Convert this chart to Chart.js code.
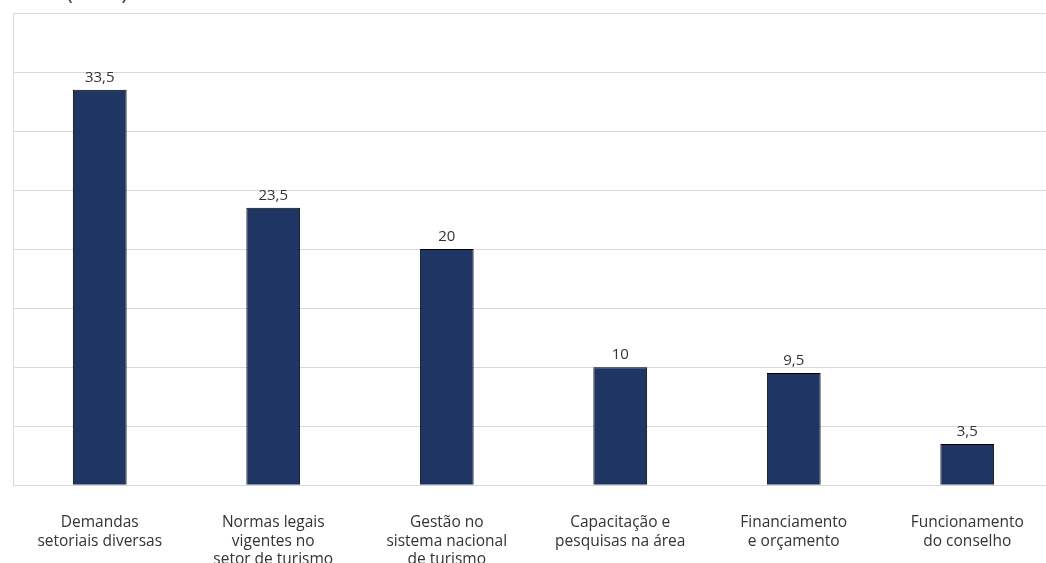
<!DOCTYPE html>
<html>
<head>
<meta charset="utf-8">
<script src="https://cdn.jsdelivr.net/npm/chart.js@4"></script>
<style>
    html, body { margin: 0; padding: 0; background: #fff; overflow: hidden; }
    #wrap { position: absolute; left: 0; top: 0; width: 1054px; height: 599px; }
    #unit { position: absolute; left: 67px; top: -20px; font: 19px "Open Sans", sans-serif; color: #333; }
</style>
</head>
<body>
<div id="unit">(Em %)</div>
<div id="wrap"><canvas id="chart"></canvas></div>
<script>
const categories = [
    ["Demandas", "setoriais diversas"],
    ["Normas legais", "vigentes no", "setor de turismo"],
    ["Gestão no", "sistema nacional", "de turismo"],
    ["Capacitação e", "pesquisas na área"],
    ["Financiamento", "e orçamento"],
    ["Funcionamento", "do conselho"]
];
const values = [33.5, 23.5, 20, 10, 9.5, 3.5];

const barColor = '#1f3563';
const gridColor = '#d9d9d9';
const textColor = '#333333';

// Value labels above each bar, pt-BR decimal comma
const valueLabels = {
    id: 'valueLabels',
    afterDatasetsDraw(chart) {
        const ctx = chart.ctx;
        const meta = chart.getDatasetMeta(0);
        ctx.save();
        ctx.font = '15px "Open Sans", sans-serif';
        ctx.fillStyle = textColor;
        ctx.textAlign = 'center';
        ctx.textBaseline = 'middle';
        meta.data.forEach((bar, i) => {
            const txt = values[i].toLocaleString('pt-BR');
            ctx.fillText(txt, bar.x, bar.y - 12);
        });
        ctx.restore();
    }
};

new Chart(document.getElementById('chart').getContext('2d'), {
    type: 'bar',
    data: {
        labels: categories,
        datasets: [{
            data: values,
            backgroundColor: barColor,
            borderColor: '#000000',
            borderWidth: 1,
            barPercentage: 0.31,
            categoryPercentage: 1.0
        }]
    },
    options: {
        responsive: true,
        maintainAspectRatio: false,
        animation: false,
        layout: { padding: { top: 13, left: 12, right: 0, bottom: 2 } },
        plugins: {
            legend: { display: false },
            tooltip: { enabled: false }
        },
        scales: {
            x: {
                grid: { display: false, drawTicks: false },
                border: { color: gridColor, width: 1 },
                ticks: {
                    color: textColor,
                    font: { family: '"Open Sans", sans-serif', size: 15.5, lineHeight: 1.2 },
                    padding: 28,
                    maxRotation: 0,
                    autoSkip: false
                }
            },
            y: {
                min: 0,
                max: 40,
                afterFit(scale) { scale.width = 1; },
                ticks: { display: false, stepSize: 5 },
                grid: { color: gridColor, lineWidth: 1, drawTicks: false },
                border: { color: gridColor, width: 1 }
            }
        }
    },
    plugins: [valueLabels]
});
</script>
</body>
</html>
